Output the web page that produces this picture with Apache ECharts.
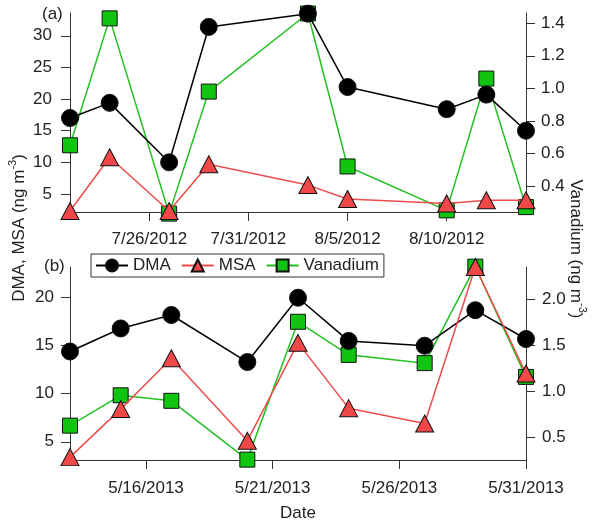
<!DOCTYPE html>
<html>
<head>
<meta charset="utf-8">
<script src="https://cdn.jsdelivr.net/npm/echarts@6/dist/echarts.min.js"></script>
<style>html,body{margin:0;padding:0;background:#fff;}#c{width:600px;height:523px;}</style>
</head>
<body>
<div id="c"></div>
<script>
// ---- data (panel a: summer 2012) ----
const topDates = ['7/22/2012','7/24/2012','7/27/2012','7/29/2012','8/3/2012','8/5/2012','8/10/2012','8/12/2012','8/14/2012'];
const topDMA = [17.0, 19.4, 10.0, 31.4, 33.5, 21.9, 18.4, 20.7, 15.0];
const topMSA = [2.3, 10.8, 2.3, 9.7, 6.4, 4.2, 3.5, 4.0, 4.0];
const topVan = [0.65, 1.43, 0.23, 0.98, 1.46, 0.52, 0.25, 1.06, 0.27];
const topXTicks = ['7/26/2012','7/31/2012','8/5/2012','8/10/2012'];
const topXRange = ['7/22/2012','8/14/2012'];
const topLeftTicks = [5, 10, 15, 20, 25, 30];
const topRightTicks = [0.4, 0.6, 0.8, 1.0, 1.2, 1.4];

// ---- data (panel b: spring 2013) ----
const botDates = ['5/13/2013','5/15/2013','5/17/2013','5/20/2013','5/22/2013','5/24/2013','5/27/2013','5/29/2013','5/31/2013'];
const botDMA = [14.4, 16.8, 18.2, 13.3, 20.0, 15.5, 15.0, 18.7, 15.7];
const botMSA = [3.4, 8.4, 13.7, 5.1, 15.3, 8.5, 6.9, 23.2, 12.1];
const botVan = [0.63, 0.96, 0.90, 0.26, 1.76, 1.40, 1.31, 2.36, 1.16];
const botXTicks = ['5/16/2013','5/21/2013','5/26/2013','5/31/2013'];
const botXRange = ['5/13/2013','5/31/2013'];
const botLeftTicks = [5, 10, 15, 20];
const botRightTicks = [0.5, 1.0, 1.5, 2.0];

const DAY = 86400000;
function ts(s){ const p = s.split('/').map(Number); return Date.UTC(p[2], p[0]-1, p[1]) / DAY; }
function fmtDate(v){ const d = new Date(Math.round(v) * DAY); return (d.getUTCMonth()+1)+'/'+d.getUTCDate()+'/'+d.getUTCFullYear(); }
function pairs(dates, vals){ return dates.map((d,i)=>[ts(d), vals[i]]); }

const FONT = 'Liberation Sans, Arial, sans-serif';
const AX = '#333';
const lbl = {color:'#222', fontSize:17, fontFamily:FONT};

function xAxis(grid, range, ticks, margin, extra){
  return Object.assign({
    type:'value', gridIndex:grid, min:ts(range[0]), max:ts(range[1]),
    axisLine:{show:true, onZero:false, lineStyle:{color:AX, width:1}},
    axisTick:{show:true, inside:false, length:9, lineStyle:{color:AX}, customValues:ticks.map(ts)},
    axisLabel:Object.assign({}, lbl, {margin:margin, customValues:ticks.map(ts), formatter:fmtDate, hideOverlap:false}),
    splitLine:{show:false}
  }, extra||{});
}
function yAxis(grid, pos, min, max, ticks, dec, margin){
  return {
    type:'value', gridIndex:grid, position:pos, min:min, max:max,
    axisLine:{show:true, onZero:false, lineStyle:{color:AX, width:1}},
    axisTick:{show:true, inside:false, length:9, lineStyle:{color:AX}, customValues:ticks},
    axisLabel:Object.assign({}, lbl, {margin:margin, customValues:ticks, formatter:v=>v.toFixed(dec)}),
    splitLine:{show:false}
  };
}

const styles = {
  DMA:{line:'#000000', fill:'#000000', symbol:'circle', size:17, z:3},
  MSA:{line:'#ee4c4c', fill:'#f04848', symbol:'triangle', size:[18,17], z:4},
  Vanadium:{line:'#22c022', fill:'#11c411', symbol:'rect', size:15, z:2}
};
function ser(name, x, y, data){
  const s = styles[name];
  return {
    name:name, type:'line', xAxisIndex:x, yAxisIndex:y, data:data, clip:false, z:s.z,
    symbol:s.symbol, symbolSize:s.size, showAllSymbol:true,
    lineStyle:{color:s.line, width:1.5},
    itemStyle:{color:s.fill, borderColor:'#111', borderWidth:1},
    emphasis:{disabled:true}, animation:false
  };
}

const chart = echarts.init(document.getElementById('c'), null, {renderer:'canvas'});
chart.setOption({
  animation:false,
  backgroundColor:'#fff',
  grid:[
    {left:70, right:74, top:13, height:199},
    {left:70, right:74, top:267, height:200}
  ],
  xAxis:[
    xAxis(0, topXRange, topXTicks, 19),
    xAxis(1, botXRange, botXTicks, 20, {name:'Date', nameLocation:'middle', nameGap:45, nameTextStyle:{color:'#222', fontSize:17, fontFamily:FONT}})
  ],
  yAxis:[
    yAxis(0, 'left', 2.15, 33.6, topLeftTicks, 0, 18),
    yAxis(0, 'right', 0.24, 1.463, topRightTicks, 1, 15),
    yAxis(1, 'left', 3.1, 23.2, botLeftTicks, 0, 16),
    yAxis(1, 'right', 0.256, 2.356, botRightTicks, 1, 16)
  ],
  legend:{
    left:91, top:254, orient:'horizontal', z:10,
    data:['DMA','MSA','Vanadium'],
    itemWidth:32, itemHeight:15, itemGap:10,
    borderColor:'#333', borderWidth:1, padding:[3,5,3,4], backgroundColor:'#fff',
    textStyle:{color:'#222', fontSize:17, fontFamily:FONT}
  },
  series:[
    ser('DMA', 0, 0, pairs(topDates, topDMA)),
    ser('MSA', 0, 0, pairs(topDates, topMSA)),
    ser('Vanadium', 0, 1, pairs(topDates, topVan)),
    ser('DMA', 1, 2, pairs(botDates, botDMA)),
    ser('MSA', 1, 2, pairs(botDates, botMSA)),
    ser('Vanadium', 1, 3, pairs(botDates, botVan))
  ],
  graphic:[
    {type:'text', x:42, y:6, style:{text:'(a)', fill:'#222', fontSize:17, fontFamily:FONT}},
    {type:'text', x:44, y:258, style:{text:'(b)', fill:'#222', fontSize:17, fontFamily:FONT}},
    {type:'text', x:19, y:228, rotation:Math.PI/2,
      style:{text:'{a|DMA, MSA (ng m}{s|-3}{a|)}', align:'center', verticalAlign:'middle', fill:'#222', fontFamily:FONT,
        rich:{a:{fontSize:17, lineHeight:24, fontFamily:FONT, fill:'#222'}, s:{fontSize:11, lineHeight:12, verticalAlign:'top', fontFamily:FONT, fill:'#222'}}}},
    {type:'text', x:576, y:249, rotation:-Math.PI/2,
      style:{text:'{a|Vanadium (ng m}{s|-3}{a|)}', align:'center', verticalAlign:'middle', fill:'#222', fontFamily:FONT,
        rich:{a:{fontSize:17, lineHeight:24, fontFamily:FONT, fill:'#222'}, s:{fontSize:11, lineHeight:12, verticalAlign:'top', fontFamily:FONT, fill:'#222'}}}}
  ]
});
</script>
</body>
</html>
